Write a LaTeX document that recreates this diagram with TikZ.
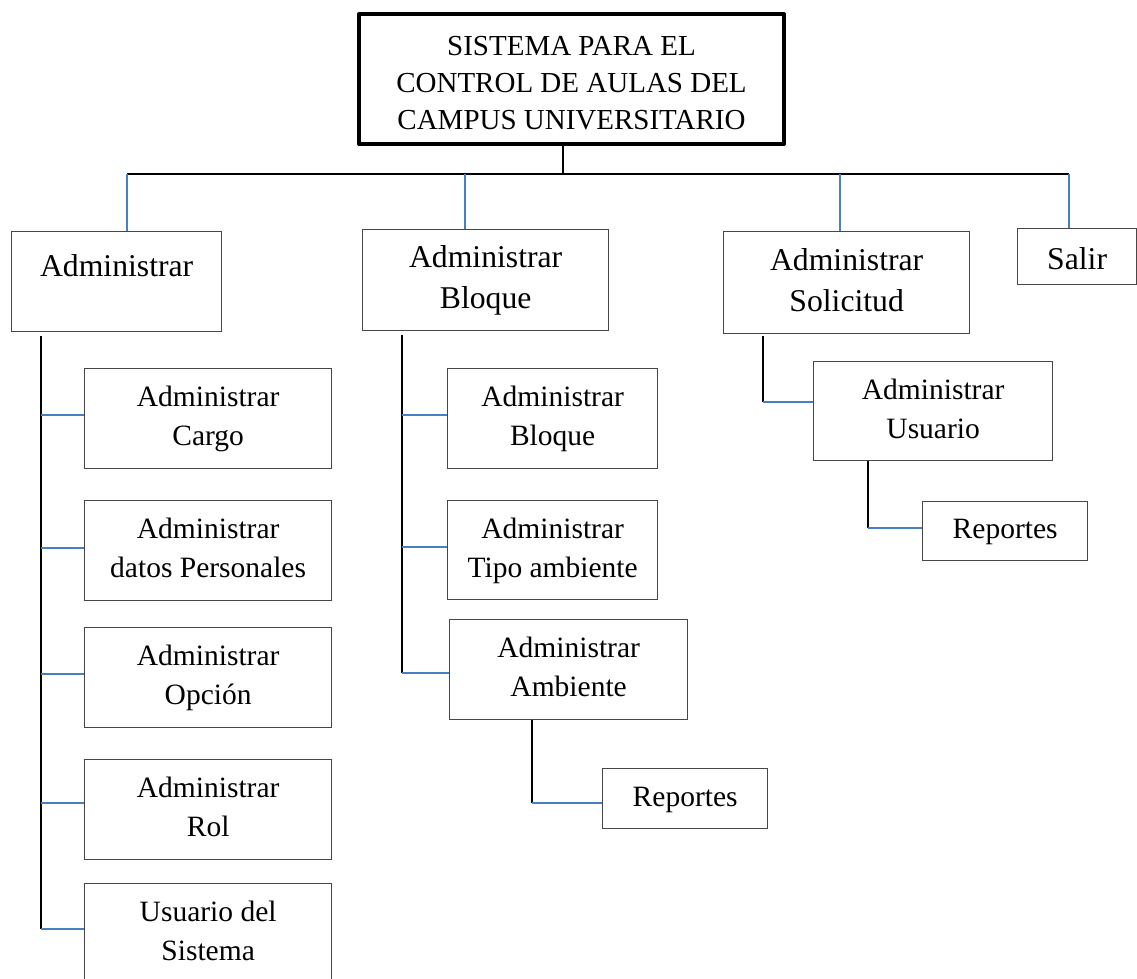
\documentclass[tikz,border=0pt]{standalone}
\usepackage{fontspec}
\setmainfont{Liberation Serif}
\usetikzlibrary{calc}
\definecolor{linkblue}{RGB}{74,126,196}
% centred lines of a box; the optional argument lowers the text block
\newcommand\celltext[2][0pt]{\raisebox{-#1}[\height][\depth]{\begin{tabular}{@{}c@{}}#2\end{tabular}}}

\begin{document}
\begin{tikzpicture}[x=1pt,y=-1pt,
  frame/.style={draw=black!72, line width=1.3pt, inner sep=0pt, anchor=north west, fill=white},
  subbox/.style={frame, font=\fontsize{29.5}{39}\selectfont},
  topbox/.style={frame, font=\fontsize{31.7}{41}\selectfont},
  titlebox/.style={draw=black, line width=4pt, line join=round, inner sep=0pt,
    anchor=north west, font=\fontsize{29}{37}\selectfont},
  trunk/.style={black, line width=2pt},
  branch/.style={linkblue, line width=2pt},
]
\useasboundingbox (0,0) rectangle (1137,978);
\clip (0,0) rectangle (1137,978);

% root
\node[titlebox, minimum width=425, minimum height=130] (title) at (357,12)
  {\celltext[6pt]{SISTEMA PARA EL\\CONTROL DE AULAS DEL\\CAMPUS UNIVERSITARIO}};

% first level
\node[topbox, minimum width=210, minimum height=100] (admin) at (11,231)
  {\celltext[7pt]{Administrar\\ \strut}};
\node[topbox, minimum width=246, minimum height=101] (bloque) at (362,229)
  {\celltext{Administrar\\Bloque}};
\node[topbox, minimum width=246, minimum height=102] (solicitud) at (723,231)
  {\celltext{Administrar\\Solicitud}};
\node[topbox, minimum width=119, minimum height=56] (salir) at (1017,228)
  {\celltext[5pt]{Salir}};

% under Administrar
\node[subbox, minimum width=247, minimum height=100] (cargo) at (84,368)
  {\celltext{Administrar\\Cargo}};
\node[subbox, minimum width=247, minimum height=100] (personal) at (84,500)
  {\celltext{Administrar\\datos Personales}};
\node[subbox, minimum width=247, minimum height=100] (opcion) at (84,627)
  {\celltext{Administrar\\Opción}};
\node[subbox, minimum width=247, minimum height=100] (rol) at (84,759)
  {\celltext{Administrar\\Rol}};
\node[subbox, minimum width=247, minimum height=100] (usrsis) at (84,883)
  {\celltext{Usuario del\\Sistema}};

% under Administrar Bloque
\node[subbox, minimum width=210, minimum height=100] (bloquesub) at (447,368)
  {\celltext{Administrar\\Bloque}};
\node[subbox, minimum width=210, minimum height=99] (tipo) at (447,500)
  {\celltext{Administrar\\Tipo ambiente}};
\node[subbox, minimum width=238, minimum height=100] (ambiente) at (449,619)
  {\celltext{Administrar\\Ambiente}};
\node[subbox, minimum width=165, minimum height=60] (repamb) at (602,768)
  {\celltext{Reportes}};

% under Administrar Solicitud
\node[subbox, minimum width=239, minimum height=99] (usuario) at (813,361)
  {\celltext{Administrar\\Usuario}};
\node[subbox, minimum width=165, minimum height=59] (repusu) at (922,501)
  {\celltext{Reportes}};

% bus below the root
\coordinate (tapA) at (127,174);
\coordinate (tapB) at (465,174);
\coordinate (tapC) at (840,174);
\coordinate (tapD) at (1069,174);
\coordinate (hub) at (563,174);
\draw[trunk] (tapA) -- (tapD);
\draw[trunk] (title.south -| hub) -- (hub);
\draw[branch] (tapA) -- (tapA |- admin.north);
\draw[branch] (tapB) -- (tapB |- bloque.north);
\draw[branch] (tapC) -- (tapC |- solicitud.north);
\draw[branch] (tapD) -- (tapD |- salir.north);

% Administrar column
\coordinate (ltop) at ($(admin.south west)+(30,4)$);
\coordinate (bCargo) at ($(cargo.west)+(0,-4)$);
\coordinate (bPers) at ($(personal.west)+(0,-3)$);
\coordinate (bOpc) at ($(opcion.west)+(0,-4)$);
\coordinate (bRol) at ($(rol.west)+(0,-7)$);
\coordinate (bUsr) at ($(usrsis.west)+(0,-5)$);
\draw[trunk] (ltop) -- (ltop |- bUsr);
\foreach \b in {bCargo,bPers,bOpc,bRol,bUsr}
  \draw[branch] (\b) -- (\b -| ltop);

% Administrar Bloque column
\coordinate (mtop) at ($(bloque.south west)+(40,4)$);
\coordinate (bBlq) at ($(bloquesub.west)+(0,-4)$);
\coordinate (bTipo) at ($(tipo.west)+(0,-3)$);
\coordinate (bAmb) at ($(ambiente.west)+(0,3)$);
\draw[trunk] (mtop) -- (mtop |- bAmb);
\foreach \b in {bBlq,bTipo,bAmb}
  \draw[branch] (\b) -- (\b -| mtop);
\coordinate (atop) at ($(ambiente.south west)+(83,0)$);
\coordinate (bRepA) at ($(repamb.west)+(0,4)$);
\draw[trunk] (atop) -- (atop |- bRepA);
\draw[branch] (bRepA) -- (bRepA -| atop);

% Administrar Solicitud column
\coordinate (stop) at ($(solicitud.south west)+(40,2)$);
\coordinate (bUsu) at ($(usuario.west)+(0,-9)$);
\draw[trunk] (stop) -- (stop |- bUsu);
\draw[branch] (bUsu) -- (bUsu -| stop);
\coordinate (utop) at ($(usuario.south west)+(55,0)$);
\coordinate (bRepU) at ($(repusu.west)+(0,-3)$);
\draw[trunk] (utop) -- (utop |- bRepU);
\draw[branch] (bRepU) -- (bRepU -| utop);
\end{tikzpicture}
\end{document}
